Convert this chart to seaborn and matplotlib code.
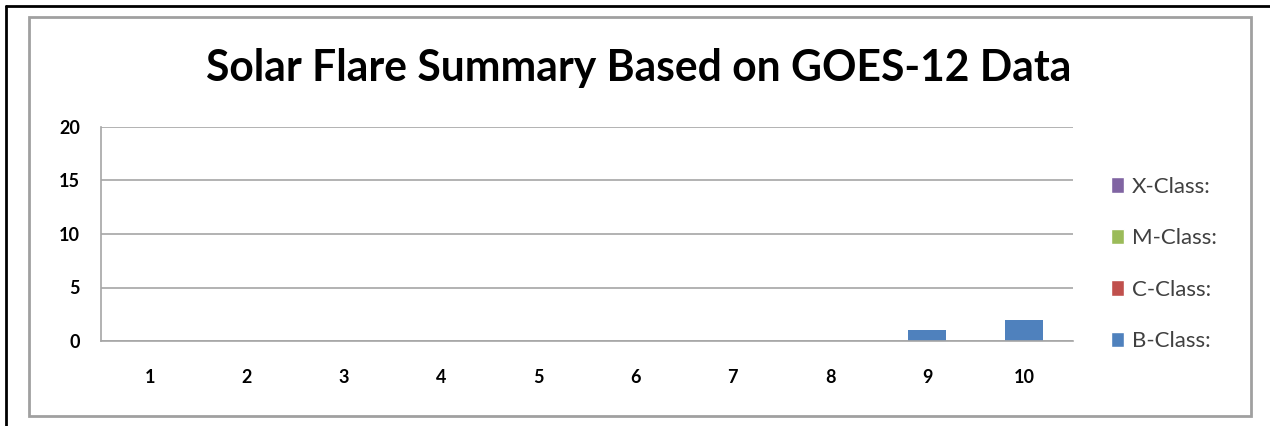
import pandas as pd
import matplotlib.pyplot as plt
import seaborn as sns
from matplotlib.patches import Rectangle, Patch

days = ['1', '2', '3', '4', '5', '6', '7', '8', '9', '10']
b_class = [0, 0, 0, 0, 0, 0, 0, 0, 1, 2]
c_class = [0, 0, 0, 0, 0, 0, 0, 0, 0, 0]
m_class = [0, 0, 0, 0, 0, 0, 0, 0, 0, 0]
x_class = [0, 0, 0, 0, 0, 0, 0, 0, 0, 0]

labels = ['B-Class:', 'C-Class:', 'M-Class:', 'X-Class:']
colors = ['#4F81BD', '#C0504D', '#9BBB59', '#8064A2']

sns.set_style('white')
plt.rcParams['font.family'] = ['Lato', 'DejaVu Sans']

df = pd.DataFrame({'day': days, 'B': b_class, 'C': c_class, 'M': m_class, 'X': x_class})

fig = plt.figure(figsize=(12.7, 4.26), dpi=100)
ax = fig.add_axes([101 / 1270, 1 - 341 / 426, (1073 - 101) / 1270, (341 - 127) / 426])

# stacked bars, B at the bottom
bottom = [0] * len(days)
for col, lab, c in zip(['B', 'C', 'M', 'X'], labels, colors):
    sns.barplot(data=df, x='day', y=col, color=c, width=0.39, bottom=bottom,
                ax=ax, saturation=1, linewidth=0)
    bottom = [b + v for b, v in zip(bottom, df[col])]

ax.set_ylim(0, 20)
ax.set_yticks([0, 5, 10, 15, 20])
ax.set_xlim(-0.5, 9.5)
ax.yaxis.grid(True, color='#A6A6A6', linewidth=1.2)
ax.set_axisbelow(True)
for s in ['top', 'right']:
    ax.spines[s].set_visible(False)
for s in ['left', 'bottom']:
    ax.spines[s].set_color('#A6A6A6')
    ax.spines[s].set_linewidth(1.2)
ax.set_xlabel('')
ax.set_ylabel('')

# category boundary ticks on x axis
ax.set_xticks([i + 0.5 for i in range(-1, 10)], minor=True)
ax.tick_params(axis='x', which='minor', length=4.3, color='#A6A6A6', width=1.2, direction='out')
ax.tick_params(axis='x', which='major', length=0, pad=20, colors='black')
ax.tick_params(axis='y', length=4.3, color='#A6A6A6', width=1.2, pad=11, labelcolor='black')
for t in ax.get_xticklabels() + ax.get_yticklabels():
    t.set_fontweight('bold')
    t.set_fontsize(13)

fig.text(0.503, 1 - 68 / 426, 'Solar Flare Summary Based on GOES-12 Data',
         ha='center', va='center', fontsize=30.7, fontweight='bold', color='black')

handles = [Patch(facecolor=c, label=l) for l, c in zip(labels, colors)][::-1]
fig.legend(handles=handles, loc='center left', bbox_to_anchor=(1111 / 1270, 1 - 264 / 426),
           frameon=False, fontsize=16, handlelength=0.6, handleheight=0.72,
           handletextpad=0.35, labelspacing=1.42, labelcolor='#404040', borderpad=0,
           borderaxespad=0)

# frames around the chart
fig.patches.append(Rectangle((29 / 1270, 1 - 416 / 426), (1251 - 29) / 1270, (416 - 17) / 426,
                             transform=fig.transFigure, fill=False, edgecolor='#A0A0A0', linewidth=2))
fig.lines.append(plt.Line2D([6 / 1270, 6 / 1270], [0, 1 - 6 / 426], transform=fig.transFigure,
                            color='black', linewidth=2))
fig.lines.append(plt.Line2D([6 / 1270, 1], [1 - 6 / 426, 1 - 6 / 426], transform=fig.transFigure,
                            color='black', linewidth=2))

fig.savefig('out.png', dpi=100)
